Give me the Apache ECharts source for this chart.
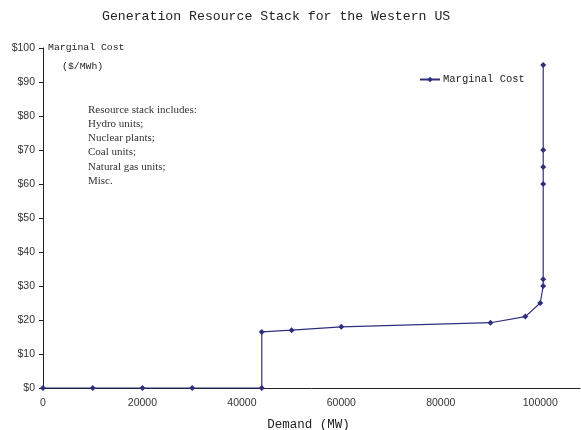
<!DOCTYPE html>
<html>
<head>
<meta charset="utf-8">
<script src="https://cdn.jsdelivr.net/npm/echarts@6/dist/echarts.min.js"></script>
<style>
  html, body { margin: 0; padding: 0; background: #fff; }
  #chart { width: 581px; height: 430px; }
</style>
</head>
<body>
<div id="chart"></div>
<script>
// Supply curve: demand (MW) against marginal cost ($/MWh)
const demandMW = [0, 10000, 20000, 30000, 44000, 44000, 50000, 60000, 90000, 97000, 100000, 100600, 100600, 100600, 100600, 100600, 100600];
const marginalCost = [0, 0, 0, 0, 0, 16.5, 17, 18, 19.2, 21, 25, 30, 32, 60, 65, 70, 95];
const yTicks = [0, 10, 20, 30, 40, 50, 60, 70, 80, 90, 100];
const stackNotes = ['Resource stack includes:', 'Hydro units;', 'Nuclear plants;', 'Coal units;', 'Natural gas units;', 'Misc.'];

const points = demandMW.map((d, i) => [d, marginalCost[i]]);
const lineColor = '#2f2f7f';
const mono = '"Liberation Mono", "DejaVu Sans Mono", monospace';
const sans = '"Liberation Sans", Arial, sans-serif';

const chart = echarts.init(document.getElementById('chart'));
chart.setOption({
  backgroundColor: '#fff',
  animation: false,
  title: {
    text: 'Generation Resource Stack for the Western US',
    left: 97, top: 5,
    textStyle: { fontFamily: mono, fontSize: 13.2, fontWeight: 'normal', color: '#222' }
  },
  legend: {
    data: ['Marginal Cost'],
    left: 414, top: 69,
    itemWidth: 20, itemHeight: 7, itemGap: 4,
    textStyle: { fontFamily: mono, fontSize: 10.5, color: '#222', padding: [0, 0, 0, -2] }
  },
  grid: { left: 43, right: 1, top: 48, bottom: 42, containLabel: false, outerBoundsMode: 'none' },
  xAxis: {
    type: 'value', min: 0, max: 108000, interval: 20000,
    name: 'Demand (MW)', nameLocation: 'middle', nameGap: 30,
    nameTextStyle: { fontFamily: mono, fontSize: 12.5, fontWeight: 'normal', color: '#222', padding: [0, 6, 0, 0] },
    axisLine: { lineStyle: { color: '#222', width: 1 } },
    axisTick: { show: false },
    axisLabel: {
      fontFamily: sans, fontSize: 10.5, color: '#333', margin: 10, showMaxLabel: false,
      formatter: v => String(v)
    },
    splitLine: { show: false }
  },
  yAxis: {
    type: 'value', min: 0, max: 100, interval: 10,
    axisLine: { show: true, lineStyle: { color: '#222', width: 1 } },
    axisTick: { show: true, length: 4, lineStyle: { color: '#222' } },
    axisLabel: {
      fontFamily: sans, fontSize: 10.5, color: '#333', margin: 8,
      formatter: v => yTicks.includes(v) ? '$' + v : ''
    },
    splitLine: { show: false }
  },
  series: [{
    name: 'Marginal Cost',
    type: 'line',
    data: points,
    symbol: 'diamond', symbolSize: 6,
    itemStyle: { color: lineColor },
    lineStyle: { color: lineColor, width: 1.2 },
    z: 3
  }],
  graphic: [
    { type: 'text', left: 48, top: 42, style: { text: 'Marginal Cost', font: '9.8px ' + mono, fill: '#222' } },
    { type: 'text', left: 62, top: 61, style: { text: '($/MWh)', font: '9.8px ' + mono, fill: '#222' } },
    {
      type: 'text', left: 88, top: 102.5,
      style: {
        text: stackNotes.join('\n'),
        font: '11px "Liberation Serif", "Times New Roman", serif',
        lineHeight: 14.3, fill: '#333'
      }
    }
  ]
});
</script>
</body>
</html>
